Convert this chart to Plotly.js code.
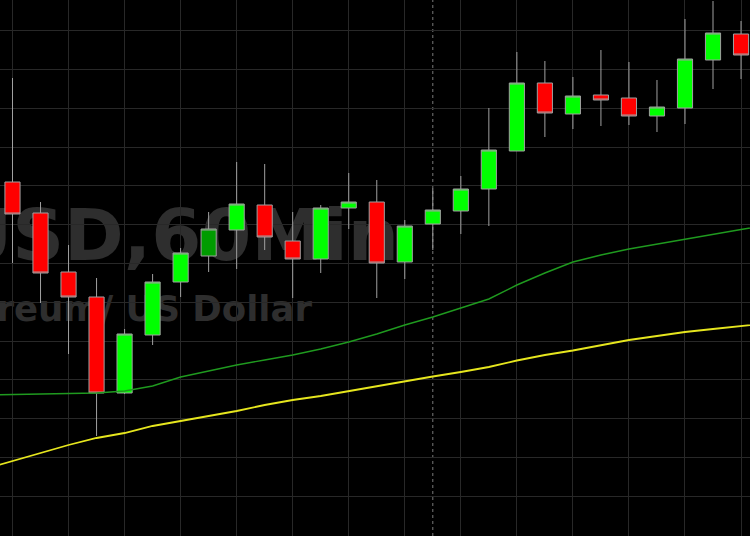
<!DOCTYPE html>
<html>
<head>
<meta charset="utf-8">
<script src="https://cdn.plot.ly/plotly-3.0.1.min.js"></script>
<style>
  html, body { margin: 0; padding: 0; background: #000; }
  #chart { width: 750px; height: 536px; }
</style>
</head>
<body>
<div id="chart"></div>
<script>
// ETH/USD 60-minute candles (index = bar number in view)
const candleIndex = [0,1,2,3,4,5,6,7,8,9,10,11,12,13,14,15,16,17,18,19,20,21,22,23,24,25,26];
const openP  = [1981.8,1978.7,1972.8,1970.3,1960.7,1966.5,1971.8,1974.4,1977.0,1979.5,1975.9,1974.1,1979.2,1979.8,1973.8,1977.6,1978.9,1981.1,1984.9,1991.7,1988.6,1990.5,1990.2,1988.4,1989.2,1994.0,1996.6];
const highP  = [1992.2,1979.8,1975.5,1972.2,1967.1,1972.6,1975.2,1978.8,1983.8,1983.6,1978.8,1979.5,1982.7,1982.0,1978.0,1981.2,1982.4,1989.2,1994.8,1993.9,1992.3,1995.0,1993.8,1992.0,1998.1,1999.9,1997.9];
const lowP   = [1973.7,1969.7,1964.6,1956.4,1960.6,1965.5,1970.3,1972.8,1973.1,1975.0,1970.2,1972.7,1977.1,1970.2,1972.1,1975.0,1976.6,1977.4,1984.9,1986.3,1987.1,1987.4,1987.5,1986.8,1987.6,1991.1,1992.1];
const closeP = [1978.6,1972.7,1970.3,1960.7,1966.6,1971.8,1974.7,1977.1,1979.6,1976.3,1974.1,1979.2,1979.8,1973.7,1977.4,1979.0,1981.1,1985.0,1991.7,1988.7,1990.4,1990.0,1988.4,1989.3,1994.1,1996.7,1994.5];
const highlightIndex = [7];          // candle drawn in darker green
// moving averages (one bar before and after the view so the lines reach the edges)
const maIndex = [-1,0,1,2,3,4,5,6,7,8,9,10,11,12,13,14,15,16,17,18,19,20,21,22,23,24,25,26,27];
const maFast  = [1960.5,1960.55,1960.6,1960.65,1960.7,1960.9,1961.4,1962.3,1962.9,1963.5,1964.0,1964.5,1965.1,1965.8,1966.6,1967.5,1968.3,1969.2,1970.1,1971.5,1972.7,1973.8,1974.5,1975.1,1975.6,1976.1,1976.6,1977.05,1977.5];
const maSlow  = [1953.1,1953.9,1954.7,1955.5,1956.2,1956.7,1957.4,1957.9,1958.4,1958.9,1959.5,1960.0,1960.4,1960.9,1961.4,1961.9,1962.35,1962.8,1963.3,1963.95,1964.5,1964.95,1965.5,1966.0,1966.4,1966.8,1967.1,1967.4,1967.7];
const sessionBreak = 15;
const watermarkMain = "ETHUSD,60Min";
const watermarkSub = "Ethereum/ US Dollar";

const keep = candleIndex.map((v, k) => k).filter(k => !highlightIndex.includes(candleIndex[k]));
const hl = candleIndex.map((v, k) => k).filter(k => highlightIndex.includes(candleIndex[k]));
const pick = (arr, ks) => ks.map(k => arr[k]);

const wick = '#a0a0a0';
const traces = [
  {
    type: 'candlestick',
    x: pick(candleIndex, keep), open: pick(openP, keep), high: pick(highP, keep),
    low: pick(lowP, keep), close: pick(closeP, keep),
    increasing: { fillcolor: '#00ff00', line: { color: wick, width: 1 } },
    decreasing: { fillcolor: '#ff0000', line: { color: wick, width: 1 } },
    whiskerwidth: 0, showlegend: false, hoverinfo: 'skip'
  },
  {
    type: 'candlestick',
    x: pick(candleIndex, hl), open: pick(openP, hl), high: pick(highP, hl),
    low: pick(lowP, hl), close: pick(closeP, hl),
    increasing: { fillcolor: '#009c00', line: { color: wick, width: 1 } },
    decreasing: { fillcolor: '#ff0000', line: { color: wick, width: 1 } },
    whiskerwidth: 0, showlegend: false, hoverinfo: 'skip'
  },
  {
    type: 'scatter', mode: 'lines', x: maIndex, y: maFast,
    line: { color: '#1f9a1f', width: 1.4 }, showlegend: false, hoverinfo: 'skip'
  },
  {
    type: 'scatter', mode: 'lines', x: maIndex, y: maSlow,
    line: { color: '#e6e61e', width: 1.8 }, showlegend: false, hoverinfo: 'skip'
  }
];

const layout = {
  width: 750, height: 536,
  margin: { l: 0, r: 0, t: 0, b: 0, pad: 0 },
  paper_bgcolor: '#000000', plot_bgcolor: '#000000',
  showlegend: false,
  boxgap: 0.46, boxgroupgap: 0,
  xaxis: {
    range: [-0.446, 26.32], tick0: 0, dtick: 2,
    showgrid: true, gridcolor: '#282828', gridwidth: 1,
    zeroline: false, showline: false, showticklabels: false, ticks: '',
    rangeslider: { visible: false }, fixedrange: true
  },
  yaxis: {
    range: [1946.4, 2000], tick0: 1946.49, dtick: 3.88,
    showgrid: true, gridcolor: '#282828', gridwidth: 1,
    zeroline: false, showline: false, showticklabels: false, ticks: '', fixedrange: true
  },
  shapes: [
    {
      type: 'line', xref: 'x', yref: 'paper', x0: sessionBreak, x1: sessionBreak, y0: 0, y1: 1,
      line: { color: '#7a7a7a', width: 1, dash: '3px,3px' }, layer: 'between'
    },
    {
      type: 'rect', xref: 'paper', yref: 'paper', x0: -0.6, x1: 402/750, y0: 0.511, y1: 0.631,
      line: { width: 0 }, fillcolor: 'rgba(0,0,0,0)', layer: 'between',
      label: { text: watermarkMain, textposition: 'middle right', padding: 0,
        font: { family: 'DejaVu Sans', size: 72, color: '#2e2e2e', weight: 'bold' } }
    },
    {
      type: 'rect', xref: 'paper', yref: 'paper', x0: -0.6, x1: 315/750, y0: 0.40, y1: 0.46,
      line: { width: 0 }, fillcolor: 'rgba(0,0,0,0)', layer: 'between',
      label: { text: watermarkSub, textposition: 'middle right', padding: 0,
        font: { family: 'DejaVu Sans', size: 35.5, color: '#2e2e2e', weight: 'bold' } }
    }
  ]
};

Plotly.newPlot('chart', traces, layout, { staticPlot: true, displayModeBar: false });
</script>
</body>
</html>
